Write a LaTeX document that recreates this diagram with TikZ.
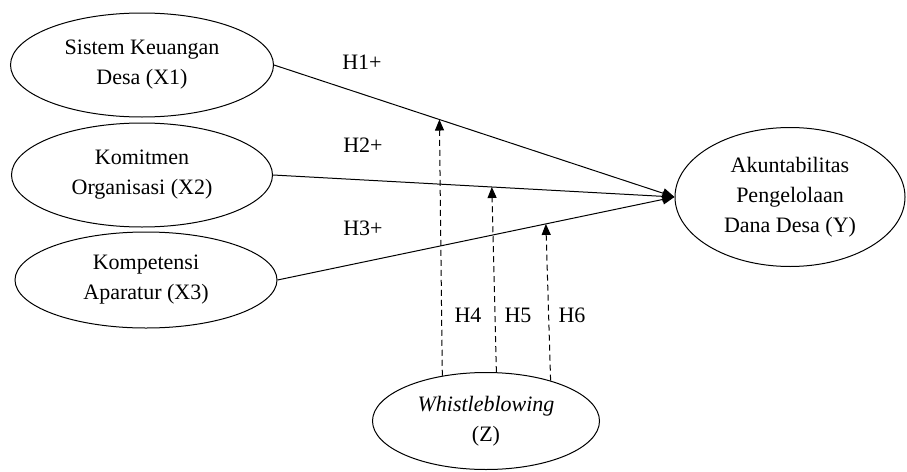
\documentclass[tikz,border=0pt]{standalone}
\usepackage{fontspec}
\setmainfont{Liberation Serif}
\usetikzlibrary{shapes.geometric,arrows.meta}

\begin{document}
\begin{tikzpicture}[x=1pt,y=-1pt,line width=1pt]
\tikzstyle{every node}+=[inner sep=0pt]
\tikzstyle{var}=[draw,ellipse,align=center,font=\fontsize{22}{30}\selectfont]
\tikzstyle{hyp}=[font=\fontsize{22}{30}\selectfont]
\tikzstyle{path}=[-{Triangle[length=12pt,width=10pt]}]
\tikzstyle{moderate}=[dashed,dash pattern=on 6pt off 4pt,-{Triangle[length=11pt,width=9pt]}]
\useasboundingbox (0,0) rectangle (907,471);
\node [var,minimum width=263pt,minimum height=104pt] (x1) at (142,65) {Sistem Keuangan\\Desa (X1)};
\node [var,minimum width=261pt,minimum height=104pt] (x2) at (142,175) {Komitmen\\Organisasi (X2)};
\node [var,minimum width=262pt,minimum height=96pt] (x3) at (146,280) {Kompetensi\\Aparatur (X3)};
\node [var,minimum width=230pt,minimum height=139pt] (y) at (790,197) {Akuntabilitas\\Pengelolaan\\Dana Desa (Y)};
\node [var,minimum width=227pt,minimum height=97pt] (z) at (486,421) {\textit{Whistleblowing}\\(Z)};
\draw [path] (x1.east) -- coordinate[pos=0.413] (m1) (y.west);
\draw [path] (x2.east) -- coordinate[pos=0.545] (m2) (y.west);
\draw [path] (x3.east) -- coordinate[pos=0.676] (m3) (y.west);
\draw [moderate] (z.134) -- (m1);
\draw [moderate] (z.78) -- (m2);
\draw [moderate] (z.32) -- (m3);
\node [hyp] (h1) at (362,62) {H1+};
\node [hyp] (h2) at (363,145) {H2+};
\node [hyp] (h3) at (363,228) {H3+};
\node [hyp] (h4) at (468,315) {H4};
\node [hyp] (h5) at (518,315) {H5};
\node [hyp] (h6) at (572,315) {H6};
\end{tikzpicture}
\end{document}
